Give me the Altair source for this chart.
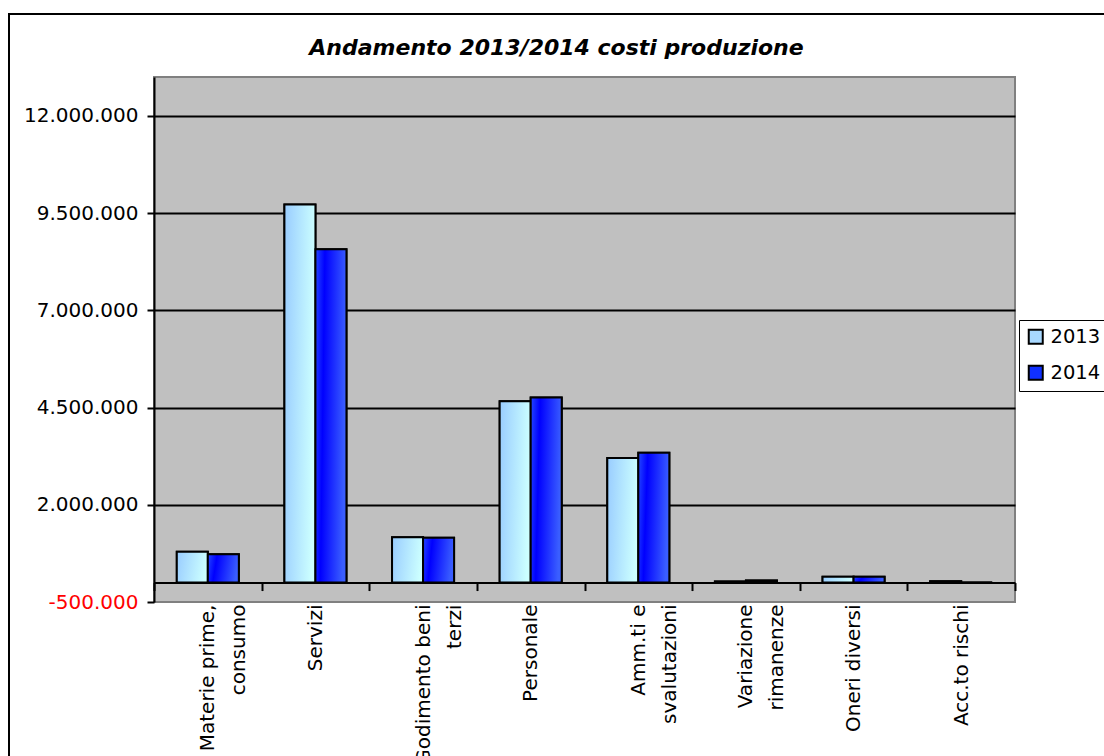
import altair as alt
import pandas as pd

# Production cost categories (label lines separated by "\n")
categories = [
    "Materie prime,\nconsumo",
    "Servizi",
    "Godimento beni\nterzi",
    "Personale",
    "Amm.ti e\nsvalutazioni",
    "Variazione\nrimanenze",
    "Oneri diversi",
    "Acc.to rischi",
]
years = ["2013", "2014"]
costs_2013 = [790000, 9720000, 1165000, 4660000, 3200000, 30000, 150000, 35000]
costs_2014 = [730000, 8570000, 1155000, 4760000, 3340000, 55000, 150000, 0]
y_ticks = [-500000, 2000000, 4500000, 7000000, 9500000, 12000000]
title_text = "Andamento 2013/2014 costi produzione"

rows = []
for cat, a, b in zip(categories, costs_2013, costs_2014):
    rows.append({"voce": cat, "anno": "2013", "valore": a})
    rows.append({"voce": cat, "anno": "2014", "valore": b})
df = pd.DataFrame(rows)

FONT = "DejaVu Sans"
W, H = 861, 525
LABEL_SIZE = 20

grad_2013 = {
    "gradient": "linear", "x1": 0, "y1": 0, "x2": 1, "y2": 0.15,
    "stops": [
        {"offset": 0, "color": "#99CCFF"},
        {"offset": 1, "color": "#CCFFFF"},
    ],
}
grad_2014 = {
    "gradient": "linear", "x1": 0, "y1": 0, "x2": 1, "y2": 0.15,
    "stops": [
        {"offset": 0, "color": "#2448FF"},
        {"offset": 0.3, "color": "#0000FF"},
        {"offset": 1, "color": "#3A5EFF"},
    ],
}

x_enc = alt.X(
    "voce:N",
    sort=categories,
    scale=alt.Scale(paddingInner=0, paddingOuter=0),
    axis=alt.Axis(
        title=None,
        orient="bottom",
        offset={"expr": "scale('y', 0) - height"},
        labelAngle=-90,
        labelExpr="split(datum.label, '\\n')",
        labelFont=FONT,
        labelFontSize=LABEL_SIZE,
        labelColor="black",
        labelLineHeight=31,
        labelPadding=13.5,
        labelAlign="right",
        labelBaseline="middle",
        labelLimit=0,
        domain=True,
        domainColor="black",
        domainWidth=2,
        ticks=True,
        tickBand="extent",
        tickColor="black",
        tickWidth=2,
        tickSize=8,
        grid=False,
    ),
)
xoff_enc = alt.XOffset(
    "anno:N", sort=years,
    scale=alt.Scale(domain=years, paddingInner=0, paddingOuter=0.735),
)
y_enc = alt.Y(
    "valore:Q",
    scale=alt.Scale(domain=[-500000, 13000000], nice=False, zero=False),
    axis=alt.Axis(
        title=None,
        values=y_ticks,
        labelExpr="(datum.value < 0 ? '-' : '') + replace(format(abs(datum.value), ','), /,/g, '.')",
        labelFont=FONT,
        labelFontSize=LABEL_SIZE,
        labelColor={"condition": {"test": "datum.value < 0", "value": "#FF0000"}, "value": "black"},
        labelPadding=9,
        domain=True,
        domainColor="black",
        domainWidth=2,
        tickColor="black",
        tickWidth=2,
        tickSize=7,
        grid=True,
        gridColor={"condition": {"test": "datum.value < 0", "value": "transparent"}, "value": "black"},
        gridWidth=2,
    ),
)

# Base bars carry the legend colours
bars = alt.Chart(df).mark_bar(stroke="black", strokeWidth=2).encode(
    x=x_enc,
    xOffset=xoff_enc,
    y=y_enc,
    y2=alt.datum(0),
    fill=alt.Fill(
        "anno:N",
        scale=alt.Scale(domain=years, range=["#A8D8FF", "#1030FF"]),
        legend=alt.Legend(
            title=None,
            orient="none",
            legendX=865,
            legendY=243,
            fillColor="white",
            strokeColor="black",
            padding=7,
            symbolType="square",
            symbolSize=196,
            symbolStrokeColor="black",
            symbolStrokeWidth=2,
            labelFont=FONT,
            labelFontSize=19.5,
            labelColor="black",
            labelOffset=5,
            rowPadding=13,
        ),
    ),
)

# Gradient-filled bars drawn on top
gradient_bars = alt.Chart(df).mark_bar(stroke="black", strokeWidth=2).encode(
    x=alt.X("voce:N", sort=categories),
    xOffset=alt.XOffset("anno:N", sort=years),
    y=alt.Y("valore:Q"),
    y2=alt.datum(0),
    fill={"condition": {"test": "datum.anno === '2013'", "value": grad_2013}, "value": grad_2014},
)

# Outer chart frame
frame = alt.Chart(alt.Data(values=[{}])).mark_rect(
    fillOpacity=0, stroke="black", strokeWidth=2
).encode(
    x=alt.value(-145), x2=alt.value(960), y=alt.value(-63), y2=alt.value(700)
)

# Chart heading, centred on the frame
heading = alt.Chart(alt.Data(values=[{"t": title_text}])).mark_text(
    font=FONT, fontSize=22, fontWeight="bold", fontStyle="italic",
    color="black", align="center", baseline="alphabetic",
).encode(
    text="t:N", x=alt.value(402.5), y=alt.value(-22)
)

chart = alt.layer(frame, bars, gradient_bars, heading).properties(
    width=W,
    height=H,
    autosize=alt.AutoSizeParams(type="none"),
    padding={"left": 154, "top": 77, "right": 89, "bottom": 154},
).configure(
    background="white",
).configure_view(
    fill="#C0C0C0",
    stroke="#808080",
    strokeWidth=2,
)

chart.save("out.html", embed_options={"renderer": "svg", "actions": False})
